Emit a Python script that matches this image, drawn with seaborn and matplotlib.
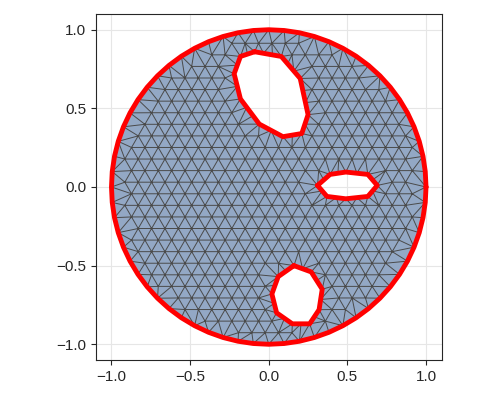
import numpy as np
import matplotlib
matplotlib.use("Agg")
import matplotlib.pyplot as plt
import matplotlib.tri as mtri
from matplotlib.path import Path
import seaborn as sns

# hole outlines
hole_top = [(-0.09, 0.86), (0.08, 0.83), (0.20, 0.69), (0.25, 0.46), (0.21, 0.34),
            (0.09, 0.32), (-0.06, 0.40), (-0.18, 0.56), (-0.22, 0.72), (-0.18, 0.83)]
hole_right = [(0.31, 0.01), (0.39, 0.08), (0.49, 0.095), (0.63, 0.08), (0.69, 0.01),
              (0.63, -0.06), (0.49, -0.075), (0.37, -0.06)]
hole_bottom = [(0.16, -0.50), (0.27, -0.54), (0.34, -0.65), (0.32, -0.78), (0.26, -0.87),
               (0.15, -0.87), (0.05, -0.80), (0.02, -0.68), (0.06, -0.57)]
holes = [hole_top, hole_right, hole_bottom]
outer_radius = 1.0
n_outer = 64
spacing = 0.085

ang = np.linspace(0, 2 * np.pi, n_outer, endpoint=False)
outer = np.c_[outer_radius * np.cos(ang), outer_radius * np.sin(ang)]

# refine hole edges a bit
def refine(poly):
    p = np.array(poly)
    out = []
    for a, b in zip(p, np.roll(p, -1, axis=0)):
        n = max(1, int(np.ceil(np.linalg.norm(b - a) / spacing)))
        for t in np.arange(n) / n:
            out.append(a + t * (b - a))
    return np.array(out)

hole_pts = [refine(h) for h in holes]
hole_paths = [Path(h) for h in holes]

# interior lattice (hexagonal)
pts = []
row = 0
for y in np.arange(-1, 1 + 1e-9, spacing * np.sqrt(3) / 2):
    off = (row % 2) * spacing / 2
    for x in np.arange(-1 + off, 1, spacing):
        pts.append((x, y))
    row += 1
pts = np.array(pts)
keep = np.hypot(pts[:, 0], pts[:, 1]) < outer_radius - spacing * 0.6
for hp in hole_pts:
    d = np.min(np.linalg.norm(pts[:, None, :] - hp[None, :, :], axis=2), axis=1)
    keep &= d > spacing * 0.6
for path in hole_paths:
    keep &= ~path.contains_points(pts)
pts = pts[keep]

allp = np.vstack([outer] + hole_pts + [pts])
tri = mtri.Triangulation(allp[:, 0], allp[:, 1])
cx = allp[tri.triangles, 0].mean(axis=1)
cy = allp[tri.triangles, 1].mean(axis=1)
cen = np.c_[cx, cy]
mask = np.zeros(len(cen), bool)
for path in hole_paths:
    mask |= path.contains_points(cen)
tri.set_mask(mask)

sns.set_style("ticks")
plt.rcParams['font.family'] = ['Liberation Sans', 'DejaVu Sans']
fig, ax = plt.subplots(figsize=(5, 4), dpi=100)
fig.subplots_adjust(left=0.19, right=0.885, bottom=0.1, top=0.965)
ax.tripcolor(tri, np.zeros(len(cen)), cmap=matplotlib.colors.ListedColormap(['#93a8c5']),
             shading='flat', zorder=1)
ax.triplot(tri, color='#4a4a4a', lw=0.7, zorder=2)
ax.plot(np.r_[outer[:, 0], outer[0, 0]], np.r_[outer[:, 1], outer[0, 1]], color='red', lw=3.5, zorder=3)
for h in holes:
    h = np.array(h)
    ax.plot(np.r_[h[:, 0], h[0, 0]], np.r_[h[:, 1], h[0, 1]], color='red', lw=3.5, zorder=3)
ax.set_xlim(-1.1, 1.1)
ax.set_ylim(-1.1, 1.1)
ax.set_aspect('equal')
ax.set_xticks([-1, -0.5, 0, 0.5, 1])
ax.set_yticks([-1, -0.5, 0, 0.5, 1])
ax.set_xticklabels(['−1.0', '−0.5', '0.0', '0.5', '1.0'])
ax.set_yticklabels(['−1.0', '−0.5', '0.0', '0.5', '1.0'])
ax.grid(True, color='#e6e6e6', lw=0.8, zorder=0)
ax.set_axisbelow(True)
ax.tick_params(labelsize=11)
fig.savefig('out.png')
